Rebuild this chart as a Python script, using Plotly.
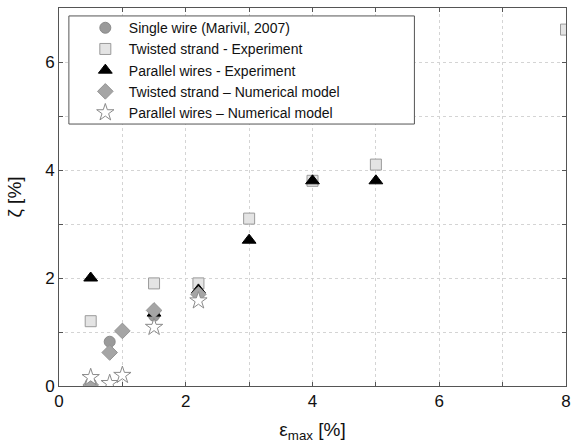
import plotly.graph_objects as go

# Data
single_x = [0.5, 0.8, 1.5, 2.2]
single_y = [0.05, 0.82, 1.30, 1.70]

tw_exp_x = [0.5, 1.5, 2.2, 3.0, 4.0, 5.0, 8.0]
tw_exp_y = [1.20, 1.90, 1.90, 3.10, 3.80, 4.10, 6.60]

par_exp_x = [0.5, 1.5, 2.2, 3.0, 4.0, 5.0]
par_exp_y = [2.00, 1.35, 1.78, 2.70, 3.80, 3.80]

tw_num_x = [0.5, 0.8, 1.0, 1.5, 2.2]
tw_num_y = [0.02, 0.62, 1.02, 1.40, 1.70]

par_num_x = [0.5, 0.8, 1.0, 1.5, 2.2]
par_num_y = [0.16, 0.05, 0.20, 1.09, 1.58]

names = ["Single wire (Marivil, 2007)", "Twisted strand - Experiment",
         "Parallel wires - Experiment", "Twisted strand \u2013 Numerical model",
         "Parallel wires \u2013 Numerical model"]

xticks = [0, 1, 2, 3, 4, 5, 6, 7, 8]
xticktext = ["0", "", "2", "", "4", "", "6", "", "8"]
yticks = [0, 1, 2, 3, 4, 5, 6, 7]
yticktext = ["0", "", "2", "", "4", "", "6", ""]

fig = go.Figure()
fig.add_trace(go.Scatter(x=single_x, y=single_y, mode="markers", name=names[0],
                         marker=dict(symbol="circle", size=11, color="#9a9a9a",
                                     line=dict(color="#8a8a8a", width=1))))
fig.add_trace(go.Scatter(x=tw_exp_x, y=tw_exp_y, mode="markers", name=names[1],
                         marker=dict(symbol="square", size=11, color="#e4e4e4",
                                     line=dict(color="#9a9a9a", width=1))))
fig.add_trace(go.Scatter(x=par_exp_x, y=par_exp_y, mode="markers", name=names[2],
                         marker=dict(symbol="triangle-up", size=12, color="#000000",
                                     line=dict(color="#000000", width=1))))
fig.add_trace(go.Scatter(x=tw_num_x, y=tw_num_y, mode="markers", name=names[3],
                         marker=dict(symbol="diamond", size=12, color="#a5a5a5",
                                     line=dict(color="#959595", width=1))))
fig.add_trace(go.Scatter(x=par_num_x, y=par_num_y, mode="markers", name=names[4],
                         marker=dict(symbol="star", size=13, color="#ffffff",
                                     line=dict(color="#8a8a8a", width=1))))

axis_common = dict(showline=True, linecolor="#555555", linewidth=1, mirror="ticks",
                   ticks="inside", ticklen=4, tickcolor="#555555",
                   showgrid=True, gridcolor="#d4d4d4", gridwidth=1, griddash="dot",
                   zeroline=False, ticklabeloverflow="allow",
                   tickfont=dict(family="Liberation Sans, Arial", size=17, color="#111111"))

fig.update_layout(
    width=575, height=443,
    margin=dict(l=59, r=4, t=8, b=57),
    paper_bgcolor="white", plot_bgcolor="white",
    font=dict(family="Liberation Sans, Arial", color="#111111"),
    xaxis=dict(range=[0, 8], tickmode="array", tickvals=xticks, ticktext=xticktext,
               title=dict(text="\u03b5<sub>max</sub> [%]", font=dict(size=19), standoff=13),
               **axis_common),
    yaxis=dict(range=[0, 7], tickmode="array", tickvals=yticks, ticktext=yticktext,
               title=dict(text="\u03b6 [%]", font=dict(size=19), standoff=18),
               **axis_common),
    legend=dict(x=0.045, y=0.989, xanchor="left", yanchor="top",
                bgcolor="rgba(0,0,0,0)", borderwidth=0,
                font=dict(size=14, color="#111111"), itemwidth=37,
                itemsizing="trace", tracegroupgap=0),
    shapes=[dict(type="rect", xref="paper", yref="paper",
                 x0=0.0195, x1=0.701, y0=0.693, y1=0.979,
                 fillcolor="white", line=dict(color="#555555", width=1),
                 layer="above")],
    showlegend=True,
)

fig.write_html("out.html")
